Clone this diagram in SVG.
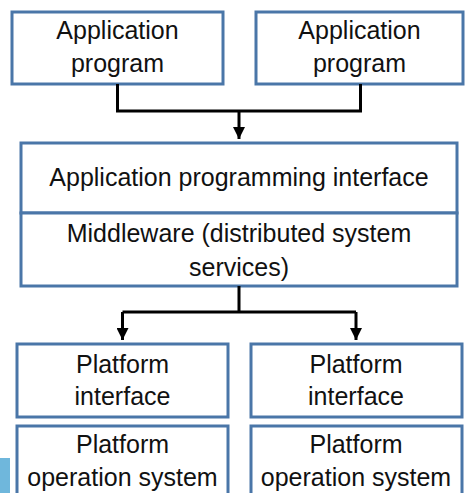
<svg xmlns="http://www.w3.org/2000/svg" width="465" height="493" viewBox="0 0 465 493">
<style>
.box{fill:#fff;stroke:#4a76a8;stroke-width:3}
.t{font-family:"Liberation Sans",Arial,sans-serif;font-size:25px;fill:#111;text-anchor:middle}
.c{fill:none;stroke:#000;stroke-width:3}
</style>
<defs>
<marker id="ah" viewBox="0 0 10 10" refX="10" refY="5" markerWidth="4" markerHeight="4" markerUnits="strokeWidth" orient="auto">
<path d="M0,0 L10,5 L0,10 z" fill="#000"/>
</marker>
</defs>
<rect x="0" y="458" width="10" height="35" fill="#6fb7dc"/>
<g id="app1"><rect class="box" x="12" y="12" width="211" height="72"/><text class="t" x="117.5" y="39">Application</text><text class="t" x="117.5" y="72">program</text></g>
<g id="app2"><rect class="box" x="256" y="12" width="207" height="72"/><text class="t" x="359.5" y="39">Application</text><text class="t" x="359.5" y="72">program</text></g>
<g id="api"><rect class="box" x="21" y="143" width="436" height="70"/><text class="t" x="239" y="186">Application programming interface</text></g>
<g id="mw"><rect class="box" x="21" y="213" width="436" height="73"/><text class="t" x="239" y="242">Middleware (distributed system</text><text class="t" x="239" y="276">services)</text></g>
<g id="pi1"><rect class="box" x="17" y="344" width="211" height="73"/><text class="t" x="122.5" y="373">Platform</text><text class="t" x="122.5" y="405">interface</text></g>
<g id="pi2"><rect class="box" x="251" y="344" width="211" height="73"/><text class="t" x="356" y="373">Platform</text><text class="t" x="356" y="405">interface</text></g>
<g id="pos1"><rect class="box" x="17" y="426" width="211" height="80"/><text class="t" x="122.5" y="453">Platform</text><text class="t" x="122.5" y="486">operation system</text></g>
<g id="pos2"><rect class="box" x="251" y="426" width="211" height="80"/><text class="t" x="356" y="453">Platform</text><text class="t" x="356" y="486">operation system</text></g>
<g id="connectors">
<path class="c" d="M117.5,84 V111 H360.5 V84"/>
<path class="c" d="M239,111 V139" marker-end="url(#ah)"/>
<path class="c" d="M239,286 V312 M122.5,312 H356"/>
<path class="c" d="M122.5,312 V340" marker-end="url(#ah)"/>
<path class="c" d="M356,312 V340" marker-end="url(#ah)"/>
</g>
</svg>
